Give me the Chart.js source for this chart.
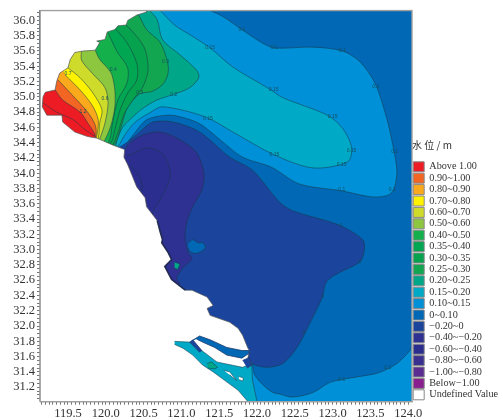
<!DOCTYPE html>
<html>
<head>
<meta charset="utf-8">
<script src="https://cdn.jsdelivr.net/npm/chart.js@4/dist/chart.umd.min.js"></script>
<style>
  html, body { margin: 0; padding: 0; background: #fff; }
  canvas { display: block; }
</style>
</head>
<body>
<canvas id="map" width="503" height="420"></canvas>
<script>
// legend
const legendLabels = ['Above 1.00', '0.90~1.00', '0.80~0.90', '0.70~0.80', '0.60~0.70', '0.50~0.60', '0.40~0.50',
  '0.35~0.40', '0.30~0.35', '0.25~0.30', '0.20~0.25', '0.15~0.20', '0.10~0.15', '0~0.10', '\u22120.20~0',
  '\u22120.40~\u22120.20', '\u22120.60~\u22120.40', '\u22120.80~\u22120.60', '\u22121.00~\u22120.80', 'Below\u22121.00', 'Undefined Value'];
const legendColors = ['#ed1c24', '#f26522', '#f9a91b', '#fff200', '#cfdb2a', '#8dc63f', '#14b04c',
  '#00a651', '#07a24e', '#12a650', '#00a688', '#00aac6', '#0090d7', '#0068b4', '#1b449c',
  '#2e3192', '#2b2e8f', '#3a3090', '#5b2c91', '#8a2090', '#ffffff'];

// axis ranges (lon, lat)
const lonMin = 119.13, lonMax = 124.05, latMin = 31.01, latMax = 36.13;

// coast line, north to south
const coast = [[120.54,36.13],[120.54,36.11],[120.41,36.07],[120.29,36.0],[120.27,35.94],[120.16,35.93],[120.12,35.88],
  [120.02,35.85],[119.99,35.75],[119.88,35.73],[119.92,35.71],[119.86,35.61],[119.7,35.6],[119.59,35.58],[119.53,35.49],
  [119.5,35.38],[119.39,35.31],[119.35,35.2],[119.33,35.09],[119.2,35.06],[119.17,35.0],[119.16,34.87],[119.22,34.76],
  [119.42,34.76],[119.43,34.67],[119.59,34.54],[119.76,34.48],[119.88,34.46],[120.09,34.37],[120.25,34.31],[120.24,34.21],
  [120.29,34.11],[120.32,34.04],[120.41,33.82],[120.52,33.68],[120.54,33.56],[120.68,33.38],[120.72,33.23],[120.75,33.13],
  [120.74,33.09],[120.82,32.97],[120.87,32.87],[120.78,32.78],[120.87,32.61],[121.05,32.47],[121.14,32.47],[121.34,32.38],
  [121.42,32.27],[121.34,32.23],[121.38,32.14],[121.64,32.05],[121.75,31.97],[121.81,31.88],[121.88,31.71],[121.9,31.68],
  [121.88,31.59],[121.93,31.51],[121.88,31.01],[119.13,31.01],[119.13,36.13]];
// mottled dark stretch of the coast
const coastDark = [[120.68,33.38],[120.72,33.23],[120.75,33.13],[120.74,33.09],[120.82,32.97],[120.87,32.87],[120.78,32.78],[120.87,32.61],[121.05,32.47]];

// contour lines, each one runs from the coast or the top edge
const c010 = [[121.38,36.13],[121.55,36.05],[121.8,35.88],[122.06,35.71],[122.23,35.64],[122.74,35.65],[123.13,35.6],
  [123.36,35.46],[123.56,35.18],[123.71,34.74],[123.79,34.4],[123.85,34.04],[123.82,33.82],[123.75,33.72],[123.53,33.69],
  [123.12,33.77],[122.56,33.86],[122.19,34.08],[121.81,34.21],[121.51,34.44],[121.24,34.65],[120.98,34.74],[120.81,34.76],
  [120.54,34.7],[120.36,34.5],[120.23,34.34],[120.13,34.32]];
const c015 = [[120.72,36.13],[120.91,35.94],[121.15,35.79],[121.38,35.64],[121.68,35.39],[122.17,35.1],[122.34,34.99],
  [122.93,34.76],[123.13,34.59],[123.25,34.34],[123.2,34.15],[122.74,34.07],[122.23,34.24],[121.68,34.54],[121.31,34.74],
  [120.75,34.87],[120.58,34.79],[120.39,34.67],[120.25,34.5],[120.15,34.34]];
const c020 = [[120.58,36.13],[120.68,36.01],[120.75,35.75],[120.98,35.55],[121.2,35.35],[121.23,35.25],[121.11,35.12],
  [120.89,35.03],[120.68,34.96],[120.49,34.85],[120.36,34.74],[120.23,34.61],[120.15,34.44],[120.12,34.33]];
const c025 = [[120.36,36.11],[120.42,36.09],[120.54,35.88],[120.72,35.71],[120.82,35.44],[120.82,35.29],[120.75,35.16],
  [120.61,35.07],[120.45,35.04],[120.29,34.87],[120.21,34.63],[120.11,34.37]];
const c030 = [[120.27,35.94],[120.41,35.79],[120.52,35.62],[120.56,35.35],[120.49,35.13],[120.39,35.0],[120.25,34.79],
  [120.16,34.53],[120.09,34.37]];
const c035 = [[120.12,35.9],[120.28,35.71],[120.41,35.44],[120.41,35.22],[120.29,35.05],[120.19,34.83],[120.12,34.57],[120.07,34.4]];
const c040 = [[120.03,35.84],[120.15,35.59],[120.29,35.38],[120.28,35.18],[120.16,34.96],[120.09,34.66],[120.04,34.41]];
const c050 = [[119.86,35.61],[119.92,35.49],[120.02,35.38],[120.08,35.29],[120.12,35.09],[120.12,34.87],[120.07,34.63],[119.99,34.44]];
const c060 = [[119.68,35.62],[119.68,35.48],[119.82,35.31],[119.99,35.12],[120.03,34.92],[119.99,34.66],[119.91,34.42]];
const c070 = [[119.5,35.38],[119.66,35.25],[119.83,35.05],[119.95,34.83],[119.92,34.66],[119.9,34.46]];
const c080 = [[119.46,35.29],[119.66,35.09],[119.82,34.89],[119.9,34.7],[119.88,34.48]];
const c090 = [[119.37,35.22],[119.55,35.03],[119.76,34.8],[119.86,34.63],[119.87,34.48]];
const c100 = [[119.33,35.09],[119.43,34.96],[119.66,34.8],[119.76,34.66],[119.86,34.48]];
const c120 = [[119.17,34.92],[119.35,34.8],[119.57,34.7],[119.7,34.59],[119.86,34.48]];
// closes a fan band over the land, the land layer hides this part
const landWest = [[119.79,34.11],[119.13,34.11],[119.13,36.13]];

// negative levels and small patches
const m000 = [[120.16,34.33],[120.29,34.41],[120.45,34.54],[120.62,34.67],[120.89,34.67],[121.24,34.54],[121.64,34.21],
  [121.94,34.04],[122.3,33.62],[122.47,33.51],[123.09,33.32],[123.4,33.13],[123.42,33.0],[123.36,32.84],[123.09,32.7],
  [122.92,32.58],[122.86,32.37],[122.7,32.04],[122.53,31.72],[122.34,31.51],[122.13,31.46],[121.93,31.51],
  [121.77,31.68],[119.92,32.34],[119.92,34.04]];
const m020 = [[120.25,34.31],[120.32,34.4],[120.49,34.5],[120.72,34.54],[120.98,34.44],[121.2,34.27],[121.3,34.0],
  [121.27,33.78],[121.15,33.56],[121.07,33.35],[121.05,33.15],[121.09,32.96],[121.14,32.88],[121.02,32.76],[120.94,32.63],
  [120.98,32.55],[120.72,32.6],[119.92,33.65],[120.12,34.28]];
const m040 = [[120.27,34.24],[120.32,34.24],[120.54,34.33],[120.72,34.28],[120.82,34.14],[120.85,33.95],[120.75,33.71],
  [120.65,33.55],[120.58,33.41],[120.19,33.65]];
const m060 = [[120.32,34.11],[120.45,33.95],[120.48,33.82],[120.45,33.72],[120.25,33.78]];
const heart = [[121.09,33.09],[121.15,33.13],[121.22,33.09],[121.28,33.09],[121.32,33.03],[121.27,32.98],[121.18,32.95],[121.11,32.98],[121.09,33.03]];
const southSea = [[124.05,31.72],[123.99,31.64],[123.85,31.51],[123.71,31.43],[123.58,31.38],[123.36,31.34],[123.12,31.3],
  [122.96,31.26],[122.74,31.13],[122.47,31.07],[122.3,31.11],[122.21,31.13],[122.08,31.23],[121.97,31.36],[121.93,31.51],
  [121.88,31.52],[121.9,31.01],[124.05,31.01]];
const estuary = [[120.91,31.8],[121.11,31.79],[121.31,31.65],[121.47,31.53],[121.81,31.46],[121.93,31.51],[121.94,31.29],
  [122.0,31.01],[121.88,31.01],[121.75,31.16],[121.57,31.29],[121.42,31.4],[121.28,31.49],[121.15,31.62],[121.02,31.71],[120.91,31.76]];
const estuaryGreen = [[121.34,31.51],[121.4,31.53],[121.48,31.46],[121.44,31.44],[121.35,31.45]];
const islet1 = [[121.56,31.42],[121.64,31.4],[121.73,31.29],[121.64,31.36]];
const islet2 = [[121.76,31.34],[121.82,31.32],[121.81,31.28],[121.76,31.3]];
const northChannel = [[121.11,31.79],[121.24,31.87],[121.38,31.82],[121.6,31.72],[121.8,31.68],[121.9,31.68],[121.89,31.64],
  [121.8,31.58],[121.6,31.62],[121.44,31.72],[121.28,31.79],[121.2,31.83]];
const channelEnd = [[121.11,31.79],[121.24,31.66],[121.27,31.68],[121.15,31.82]];
const mouthPatch = [[121.81,31.55],[121.9,31.59],[121.93,31.49],[121.87,31.45]];
const coastGreen = [[120.91,32.84],[120.98,32.81],[120.95,32.74],[120.91,32.76]];
const frame = [[lonMin,latMin],[lonMax,latMin],[lonMax,latMax],[lonMin,latMax],[lonMin,latMin]];

// small labels sitting on the contours
const contourTexts = [[121.8,35.88,'0.1'],[122.23,35.65,'0.1'],[123.13,35.6,'0.1'],[123.57,35.13,'0.1'],[123.82,34.28,'0.1'],
  [121.38,35.64,'0.15'],[122.22,35.09,'0.15'],[123.0,34.74,'0.15'],[123.25,34.3,'0.15'],[123.12,34.11,'0.15'],[122.23,34.24,'0.15'],[121.35,34.72,'0.15'],
  [123.12,33.78,'0.1'],[123.79,33.78,'0.1'],[123.12,31.3,'0.1'],[123.73,31.45,'0.1'],
  [123.11,33.31,'0'],[123.36,32.84,'0'],[122.87,32.39,'0'],[122.62,31.91,'0'],
  [120.45,35.05,'0.5'],[120.79,35.46,'0.3'],[120.9,35.03,'0.2'],[120.1,35.35,'0.4'],[119.99,34.98,'0.6'],[119.5,35.31,'0.7'],[119.7,34.8,'1.2']];

function band(line) { return line.concat(landWest); }

// drawn in this order, later ones on top
const layers = [
  { pts: [[lonMin,latMin],[lonMax,latMin],[lonMax,latMax],[lonMin,latMax]], color: legendColors[13], border: 0 },
  { pts: southSea, color: legendColors[12], smooth: true },
  { pts: band(c010), color: legendColors[12], smooth: true },
  { pts: band(c015), color: legendColors[11], smooth: true },
  { pts: band(c020), color: legendColors[10], smooth: true },
  { pts: band(c025), color: legendColors[9], smooth: true },
  { pts: band(c030), color: legendColors[8], smooth: true },
  { pts: band(c035), color: legendColors[7], smooth: true },
  { pts: band(c040), color: legendColors[6], smooth: true },
  { pts: band(c050), color: legendColors[5], smooth: true },
  { pts: band(c060), color: legendColors[4], smooth: true },
  { pts: band(c070), color: legendColors[3], smooth: true },
  { pts: band(c080), color: legendColors[2], smooth: true },
  { pts: band(c090), color: legendColors[1], smooth: true },
  { pts: band(c100), color: legendColors[0], smooth: true },
  { pts: c120, color: false, smooth: true },
  { pts: m000, color: legendColors[14], smooth: true },
  { pts: heart, color: legendColors[13], smooth: true },
  { pts: m020, color: legendColors[15], smooth: true },
  { pts: m040, color: legendColors[16], smooth: true },
  { pts: m060, color: legendColors[16], smooth: true },
  { pts: coastGreen, color: legendColors[10] },
  { pts: coast, color: '#ffffff', line: '#555555' },
  { pts: coastDark, color: false, line: 'rgba(20,30,70,0.8)', border: 1.6 },
  { pts: estuary, color: legendColors[11] },
  { pts: estuaryGreen, color: legendColors[10] },
  { pts: islet1, color: '#ffffff' },
  { pts: islet2, color: '#ffffff' },
  { pts: northChannel, color: legendColors[13], line: '#1d3a6e', border: 0.8 },
  { pts: channelEnd, color: legendColors[14], line: '#1d3a6e', border: 0.8 },
  { pts: mouthPatch, color: legendColors[14], line: '#1d3a6e', border: 0.8 },
  { pts: frame, color: false, line: '#a0a0a0', border: 1.4 }
];

const contourLabelPlugin = {
  id: 'contourLabels',
  afterDatasetsDraw(chart) {
    const ctx = chart.ctx;
    ctx.save();
    ctx.font = '5px "Liberation Sans"';
    ctx.fillStyle = '#14505e';
    ctx.textAlign = 'center';
    ctx.textBaseline = 'middle';
    contourTexts.forEach(t => {
      ctx.fillText(t[2], chart.scales.x.getPixelForValue(t[0]), chart.scales.y.getPixelForValue(t[1]));
    });
    ctx.restore();
  }
};

function isStep(v, step) {
  return Math.abs(v / step - Math.round(v / step)) < 0.001;
}

new Chart(document.getElementById('map').getContext('2d'), {
  type: 'scatter',
  plugins: [contourLabelPlugin],
  data: {
    datasets: layers.map((l, i) => ({
      data: l.pts.map(p => ({ x: p[0], y: p[1] })),
      showLine: true,
      order: layers.length - i,
      fill: l.color ? 'shape' : false,
      backgroundColor: l.color || 'transparent',
      borderColor: l.line || 'rgba(25,55,70,0.75)',
      borderWidth: l.border === undefined ? 0.7 : l.border,
      tension: l.smooth ? 0.3 : 0,
      pointRadius: 0,
      clip: 1
    }))
  },
  options: {
    responsive: false,
    animation: false,
    events: [],
    layout: { padding: { top: 10.5, right: 0, bottom: 0, left: 0 } },
    plugins: {
      tooltip: { enabled: false },
      legend: {
        position: 'right',
        align: 'start',
        maxWidth: 91,
        onClick: null,
        title: {
          display: true,
          position: 'start',
          text: '水 位 / m',
          color: '#333',
          font: { family: '"Noto Sans CJK SC", "Liberation Serif"', size: 10 },
          padding: { top: 130, bottom: 8 }
        },
        labels: {
          boxWidth: 11,
          boxHeight: 10,
          padding: 1.2,
          color: '#333',
          font: { family: '"Liberation Serif"', size: 10.2 },
          generateLabels: () => legendLabels.map((text, i) => ({
            text,
            fillStyle: legendColors[i],
            strokeStyle: '#888888',
            lineWidth: 1
          }))
        }
      }
    },
    scales: {
      x: {
        type: 'linear',
        min: lonMin,
        max: lonMax,
        afterFit: s => { s.height = 18.3; },
        border: { color: '#999' },
        grid: { drawOnChartArea: false, tickLength: 3, tickColor: '#777' },
        ticks: {
          stepSize: 0.05,
          includeBounds: false,
          autoSkip: false,
          maxRotation: 0,
          padding: 2,
          color: '#333',
          font: { family: '"Liberation Serif"', size: 12.5 },
          callback: v => isStep(v, 0.5) ? v.toFixed(1) : ''
        }
      },
      y: {
        type: 'linear',
        min: latMin,
        max: latMax,
        afterFit: s => { s.width = 40; },
        border: { color: '#999' },
        grid: { drawOnChartArea: false, tickLength: 3, tickColor: '#777' },
        ticks: {
          stepSize: 0.05,
          includeBounds: false,
          autoSkip: false,
          padding: 2,
          color: '#333',
          font: { family: '"Liberation Serif"', size: 12.5 },
          callback: v => isStep(v, 0.2) ? v.toFixed(1) : ''
        }
      }
    }
  }
});
</script>
</body>
</html>
